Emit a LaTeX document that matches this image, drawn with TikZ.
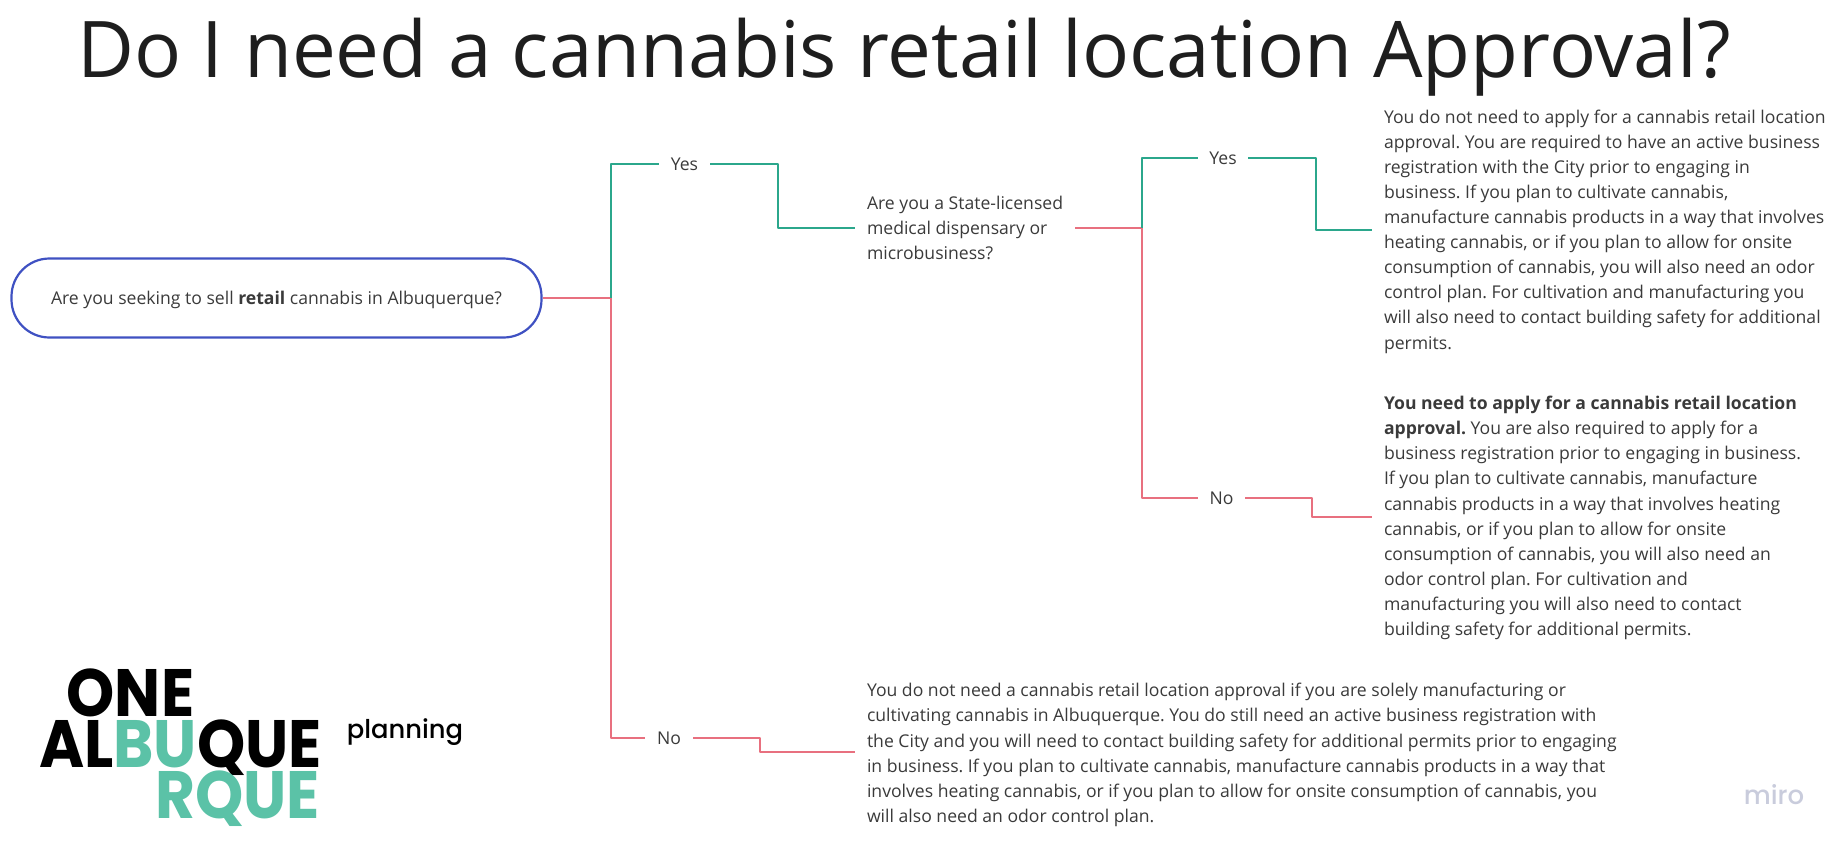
\documentclass[tikz,border=0pt]{standalone}
\usepackage{fontspec}
\setmainfont{Open Sans}
\newfontfamily\logofont{Poppins}
\newfontfamily\planfont{Poppins Medium}
\definecolor{yescolor}{HTML}{2BA78C}
\definecolor{nocolor}{HTML}{E8707F}
\definecolor{rootcolor}{HTML}{3F51C2}
\definecolor{bodycolor}{HTML}{3A3A3A}
\definecolor{titlecolor}{HTML}{1E1E1E}
\definecolor{logogreen}{HTML}{5BC2A7}
\definecolor{mirocolor}{HTML}{C9CCDC}
\newcommand{\logoscale}[1]{\scalebox{0.915}[1]{#1}}
\tikzset{
  body/.style={anchor=west, align=left, inner sep=0pt, outer sep=12pt, text=bodycolor,
    font=\frenchspacing\fontsize{17.6}{25.1}\selectfont},
  answer/.style={inner sep=0pt, text=bodycolor, text height=14pt, text depth=2pt,
    font=\fontsize{17.6}{25.1}\selectfont},
  yesline/.style={draw=yescolor, line width=2.2pt},
  noline/.style={draw=nocolor, line width=2.2pt},
  logotext/.style={anchor=base, inner sep=0pt, font=\logofont\bfseries\fontsize{67}{67}\selectfont},
}
\begin{document}
\begin{tikzpicture}[x=1pt, y=-1pt, line join=bevel]
\useasboundingbox (0,0) rectangle (1845,846);
\node[inner sep=0pt, text=titlecolor, font=\fontsize{78.2}{90}\selectfont] (title) at (904,57)
  {Do I need a cannabis retail location Approval?};

% root question
\node[draw=rootcolor, line width=2.2pt, rounded corners=38pt, minimum width=530pt, minimum height=79pt,
  inner sep=0pt, text=bodycolor, text height=14pt, text depth=2pt,
  font=\fontsize{17.6}{25.1}\selectfont] (root) at (276.5,298)
  {Are you seeking to sell \textbf{retail} cannabis in Albuquerque?};

\node[answer, minimum width=51pt] (yesa) at (684.5,164) {Yes};
\node[answer, minimum width=48pt] (noa) at (669,738) {No};
\node[answer, minimum width=50pt] (yesb) at (1223,158) {Yes};
\node[answer, minimum width=47pt] (nob) at (1221.5,498) {No};

\node[body] (medical) at (855,228) {Are you a State-licensed\\
medical dispensary or\\
microbusiness?};

\node[body] (noneedb) at (1372,231.5) {You do not need to apply for a cannabis retail location\\
approval. You are required to have an active business\\
registration with the City prior to engaging in\\
business. If you plan to cultivate cannabis,\\
manufacture cannabis products in a way that involves\\
heating cannabis, or if you plan to allow for onsite\\
consumption of cannabis, you will also need an odor\\
control plan. For cultivation and manufacturing you\\
will also need to contact building safety for additional\\
permits.};

\node[body] (needb) at (1372,518) {\textbf{You need to apply for a cannabis retail location}\\
\textbf{approval.} You are also required to apply for a\\
business registration prior to engaging in business.\\
If you plan to cultivate cannabis, manufacture\\
cannabis products in a way that involves heating\\
cannabis, or if you plan to allow for onsite\\
consumption of cannabis, you will also need an\\
odor control plan. For cultivation and\\
manufacturing you will also need to contact\\
building safety for additional permits.};

\node[body] (noneeda) at (855,755) {You do not need a cannabis retail location approval if you are solely manufacturing or\\
cultivating cannabis in Albuquerque. You do still need an active business registration with\\
the City and you will need to contact building safety for additional permits prior to engaging\\
in business. If you plan to cultivate cannabis, manufacture cannabis products in a way that\\
involves heating cannabis, or if you plan to allow for onsite consumption of cannabis, you\\
will also need an odor control plan.};

% logo
\node[logotext] (logoone) at (130.5,716) {\logoscale{ONE}};
\node[logotext] (logoalb) at (180.5,767) {\logoscale{AL\textcolor{logogreen}{BU}QUE}};
\node[logotext, text=logogreen] (logorqe) at (237.5,818) {\logoscale{RQUE}};
\node[anchor=base, inner sep=0pt, font=\planfont\fontsize{25.8}{26}\selectfont] (planning) at (405,738) {planning};
\node[anchor=base, inner sep=0pt, text=mirocolor, font=\planfont\fontsize{26}{26}\selectfont] (miro) at (1774,804) {miro};

\coordinate (rootj) at (611,298);
\coordinate (medj) at (1142,228);
\coordinate (yesak) at (778,228);
\coordinate (noak) at (760,752);
\coordinate (yesbk) at (1316,230);
\coordinate (nobk) at (1312,517);

\draw[noline] (root.east) -- (rootj);
\draw[yesline] (rootj) |- (yesa.west);
\draw[noline] (rootj) |- (noa.west);
\draw[yesline] (yesa.east) -| (yesak) -- (medical.west);
\draw[noline] (noa.east) -| (noak) -- (noak -| noneeda.west);
\draw[noline] (medical.east) -- (medj);
\draw[yesline] (medj) |- (yesb.west);
\draw[noline] (medj) |- (nob.west);
\draw[yesline] (yesb.east) -| (yesbk) -- (yesbk -| noneedb.west);
\draw[noline] (nob.east) -| (nobk) -- (nobk -| needb.west);
\end{tikzpicture}
\end{document}
